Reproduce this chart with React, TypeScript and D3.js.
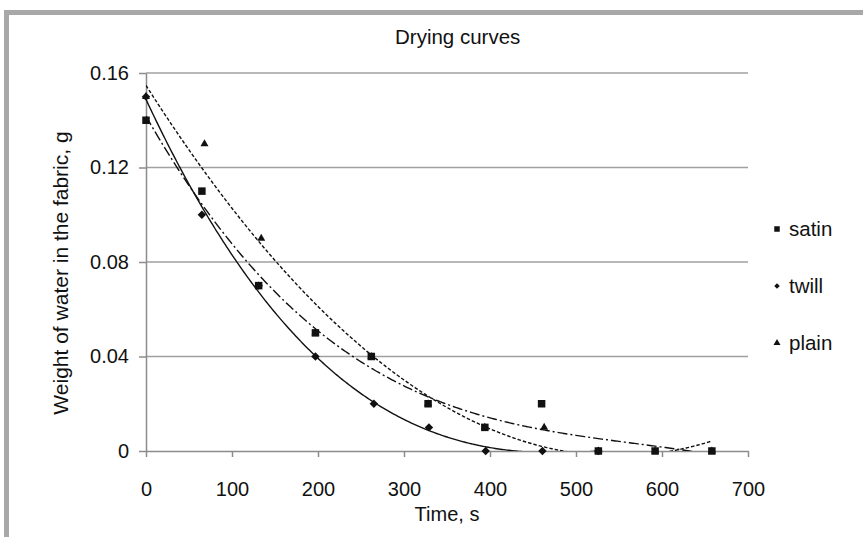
import React, { useEffect, useRef } from "react";
import * as d3 from "d3";

// drying data (time in s, water weight in g)
const satinTime = [0, 65, 131, 197, 262, 328, 394, 460, 526, 592, 658];
const satinWeight = [0.14, 0.11, 0.07, 0.05, 0.04, 0.02, 0.01, 0.02, 0, 0, 0];
const twillTime = [0, 65, 131, 197, 265, 329, 395, 461, 526];
const twillWeight = [0.15, 0.1, 0.07, 0.04, 0.02, 0.01, 0, 0, 0];
const plainTime = [0, 68, 134, 197, 262, 328, 394, 463, 526, 592, 658];
const plainWeight = [0.15, 0.13, 0.09, 0.05, 0.04, 0.02, 0.01, 0.01, 0, 0, 0];

const timeTicks = [0, 100, 200, 300, 400, 500, 600, 700];
const weightTicks = [0, 0.04, 0.08, 0.12, 0.16];
const legendNames = ["satin", "twill", "plain"];

// least squares polynomial trendline (like Excel's)
function polyfit(xs: number[], ys: number[], order: number) {
  const n = order + 1;
  const A = Array.from({ length: n }, () => new Array(n + 1).fill(0));
  xs.forEach((x, k) => {
    const u = x / 100;
    for (let i = 0; i < n; i++) {
      for (let j = 0; j < n; j++) A[i][j] += Math.pow(u, i + j);
      A[i][n] += ys[k] * Math.pow(u, i);
    }
  });
  for (let c = 0; c < n; c++) {
    let p = c;
    for (let r = c + 1; r < n; r++) if (Math.abs(A[r][c]) > Math.abs(A[p][c])) p = r;
    [A[c], A[p]] = [A[p], A[c]];
    for (let r = 0; r < n; r++) {
      if (r === c) continue;
      const f = A[r][c] / A[c][c];
      for (let k = c; k <= n; k++) A[r][k] -= f * A[c][k];
    }
  }
  const coef = A.map((row, i) => row[n] / row[i]);
  return (x: number) => coef.reduce((s, c, i) => s + c * Math.pow(x / 100, i), 0);
}

const FONT = "'Liberation Sans', Arial, sans-serif";

const DryingChart = ({ width = 863, height = 537 }) => {
  const svgRef = useRef<SVGSVGElement>(null);

  useEffect(() => {
    const svg = d3.select(svgRef.current);
    svg.selectAll("*").remove();

    // frame of the figure (top and left grey bands)
    svg.append("rect").attr("x", 4).attr("y", 10).attr("width", width - 4).attr("height", 5).attr("fill", "#a8a8a8");
    svg.append("rect").attr("x", 4).attr("y", 10).attr("width", 5).attr("height", height - 10).attr("fill", "#a8a8a8");

    const margin = { top: 73, left: 146 };
    const innerWidth = 602;
    const innerHeight = 378;

    const x = d3.scaleLinear().domain([0, 700]).range([0, innerWidth]);
    const y = d3.scaleLinear().domain([0, 0.16]).range([innerHeight, 0]);

    const g = svg.append("g").attr("transform", `translate(${margin.left},${margin.top})`);

    svg.append("defs").append("clipPath").attr("id", "plotClip")
      .append("rect").attr("x", 0).attr("y", 0).attr("width", innerWidth).attr("height", innerHeight);

    // grid lines
    g.append("g")
      .selectAll("line")
      .data(weightTicks.filter((d) => d > 0))
      .enter()
      .append("line")
      .attr("x1", 0)
      .attr("x2", innerWidth)
      .attr("y1", (d) => y(d))
      .attr("y2", (d) => y(d))
      .attr("stroke", "#a0a0a0")
      .attr("stroke-width", 1.5);

    // axes
    const xAxis = g.append("g")
      .attr("transform", `translate(0,${innerHeight})`)
      .call(d3.axisBottom(x).tickValues(timeTicks).tickSize(6).tickPadding(25).tickSizeOuter(0).tickFormat(d3.format("d")));
    const yAxis = g.append("g")
      .call(d3.axisLeft(y).tickValues(weightTicks).tickSize(7).tickPadding(10).tickSizeOuter(0)
        .tickFormat((d) => (d === 0 ? "0" : d3.format(".2f")(d as number))));
    [xAxis, yAxis].forEach((a) => {
      a.select(".domain").attr("stroke", "#8c8c8c").attr("stroke-width", 1.5);
      a.selectAll(".tick line").attr("stroke", "#8c8c8c").attr("stroke-width", 1.5);
      a.selectAll(".tick text").attr("font-family", FONT).attr("font-size", 20).attr("fill", "#111");
    });

    const series = [
      { name: "satin", time: satinTime, weight: satinWeight, order: 3, dash: "10,3,2,3", symbol: "square" },
      { name: "twill", time: twillTime, weight: twillWeight, order: 3, dash: null, symbol: "diamond" },
      { name: "plain", time: plainTime, weight: plainWeight, order: 2, dash: "3.5,2", symbol: "triangle" },
    ];

    const symbolPath = (kind: string, s: number) => {
      if (kind === "square") return d3.symbol(d3.symbolSquare, s * s)();
      if (kind === "diamond") return d3.symbol(d3.symbolSquare, (s * s) / 2)();
      return d3.symbol(d3.symbolTriangle, (s * s * Math.sqrt(3)) / 4)();
    };

    // trendlines
    const trend = g.append("g").attr("clip-path", "url(#plotClip)");
    series.forEach((s) => {
      const fit = polyfit(s.time, s.weight, s.order);
      const xs = d3.range(d3.min(s.time)!, d3.max(s.time)! + 0.5, 2);
      const line = d3.line<number>().x((t) => x(t)).y((t) => y(Math.max(fit(t), -0.002)));
      trend.append("path")
        .datum(xs)
        .attr("fill", "none")
        .attr("stroke", "#111")
        .attr("stroke-width", 1.4)
        .attr("stroke-dasharray", s.dash)
        .attr("d", line);
    });

    // markers
    ["plain", "satin", "twill"].forEach((name) => {
      const s = series.find((d) => d.name === name)!;
      const size = s.symbol === "square" ? 7.5 : s.symbol === "diamond" ? 8.5 : 8;
      g.append("g")
        .selectAll("path")
        .data(s.time.map((t, i) => [t, s.weight[i]]))
        .enter()
        .append("path")
        .attr("d", symbolPath(s.symbol, size))
        .attr("transform", (d) => `translate(${x(d[0])},${y(d[1])})${s.symbol === "diamond" ? " rotate(45)" : ""}`)
        .attr("fill", "#111");
    });

    // title and axis titles
    svg.append("text").attr("x", 395).attr("y", 44)
      .attr("font-family", FONT).attr("font-size", 20.5).attr("fill", "#111").text("Drying curves");
    svg.append("text").attr("x", margin.left + x(350)).attr("y", 521).attr("text-anchor", "middle")
      .attr("font-family", FONT).attr("font-size", 20).attr("fill", "#111").text("Time, s");
    svg.append("text").attr("transform", "translate(68,273) rotate(-90)")
      .attr("text-anchor", "middle").attr("font-family", FONT).attr("font-size", 21).attr("fill", "#111")
      .text("Weight of water in the fabric, g");

    // legend
    const legend = svg.append("g").attr("transform", "translate(777,229)");
    legendNames.forEach((name, i) => {
      const s = series.find((d) => d.name === name)!;
      const row = legend.append("g").attr("transform", `translate(0,${i * 57})`);
      row.append("path")
        .attr("d", symbolPath(s.symbol, s.symbol === "triangle" ? 7 : 5.5))
        .attr("transform", s.symbol === "diamond" ? "rotate(45)" : null)
        .attr("fill", "#111");
      row.append("text").attr("x", 12).attr("y", 7)
        .attr("font-family", FONT).attr("font-size", 20.5).attr("fill", "#111").text(name);
    });
  }, [width, height]);

  return (
    <svg ref={svgRef} width={width} height={height}
      style={{ position: "absolute", left: 0, top: 0, background: "#fff" }} />
  );
};

export default function App() {
  return <DryingChart />;
}
